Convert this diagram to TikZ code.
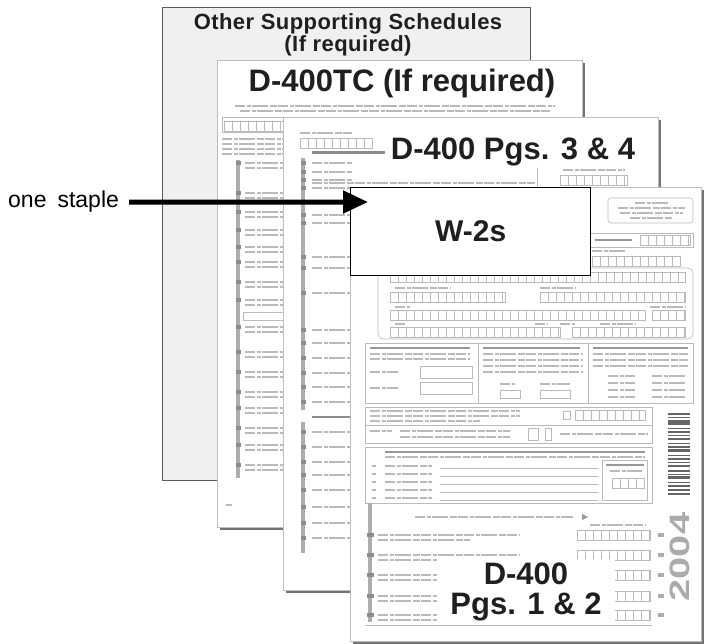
\documentclass[tikz,border=0pt]{standalone}
\usepackage{fontspec}
\setmainfont{Liberation Sans}
\usepackage{graphicx}
\usetikzlibrary{arrows.meta,shadows}

\newcommand\fgrid[3]{%
  \pgfmathsetmacro\fgA{#1+8}\pgfmathsetmacro\fgB{#1+16}%
  \draw[formline] (#1,#3) rectangle (#2,#3+10);
  \foreach \xx in {\fgA,\fgB,...,#2} {\draw[formline] (\xx,#3) -- (\xx,#3+10);}
}
\newcommand\ftext[3]{\draw[formtext] (#1,#3) -- (#2,#3);}

\begin{document}
\begin{tikzpicture}[x=1pt,y=-1pt,
  sheetone/.style={draw=black!65, line width=1.3pt, fill=black!6, inner sep=0pt, anchor=north west},
  sheet/.style={draw=black!25, line width=0.8pt, fill=white, inner sep=0pt, anchor=north west,
     drop shadow={shadow xshift=2.5pt, shadow yshift=-2.5pt, fill=black!55, opacity=1}},
  formline/.style={draw=black!27, line width=0.6pt},
  formtext/.style={black!27, line width=1.8pt, dash pattern=on 10pt off 1.5pt on 4pt off 1.5pt on 16pt off 1.5pt on 7pt off 1.5pt},
  formbar/.style={fill=black!32},
  bullet/.style={fill=black!45},
  fhead/.style={black!40, line width=2pt},
  bigtitle/.style={font=\fontsize{31}{30}\selectfont\bfseries, inner sep=0pt, text=black!88},
  w2box/.style={draw=black, line width=1.3pt, fill=white, anchor=north west, inner sep=0pt,
     font=\fontsize{30}{30}\selectfont\bfseries, text=black!88},
  staple/.style={line width=5pt, -{Triangle[length=25pt,width=22pt]}}
]
\useasboundingbox (0,0) rectangle (705,644);

% ---------- page 1 : other schedules
\node[sheetone, minimum width=368pt, minimum height=473pt] (p1) at (162,7) {};
\node[font=\fontsize{22}{18}\selectfont\bfseries\addfontfeature{LetterSpace=2}, align=center,
      anchor=north, inner sep=0pt, text=black!88] (t1) at (348,13.5) {Other Supporting Schedules\\(If required)};

% ---------- page 2 : D-400TC
\node[sheet, minimum width=365pt, minimum height=467pt] (p2) at (217,60) {};
\ftext{235}{555}{106}
\ftext{240}{550}{111}
\draw[formline] (222,117) rectangle (283,132);
\fgrid{224}{283}{121}
\foreach \yy in {139,144,149,154} {\ftext{222}{283}{\yy}}
\fill[formbar] (236,160) rectangle (240,478);
\foreach \yy in {163,193,212,230,247,262,282,300,327,352,372,392,408,428,445,465} {
  \fill[bullet] (235.5,\yy-2) rectangle (240.5,\yy+2);
  \ftext{245}{283}{\yy}
  \ftext{245}{283}{\yy+5}
}
\draw[formline] (243,312) rectangle (283,320);
\ftext{226}{232}{505}
\node[bigtitle, anchor=base] (t2) at (402,92) {D-400TC (If required)};

% ---------- page 3 : D-400 pgs 3 & 4
\node[sheet, minimum width=375pt, minimum height=473pt] (p3) at (283,117) {};
\ftext{300}{352}{133}
\fgrid{300}{372}{138}
\draw[black!45, line width=3pt] (312,153) -- (385,153);
\ftext{312}{535}{183}
\draw[formline] (537,168) -- (537,187);
\ftext{563}{625}{170}
\fgrid{560}{627}{175}
\fill[formbar] (301,158) rectangle (305,410);
\fill[formbar] (301,422) rectangle (305,553);
\draw[black!45, line width=2.5pt] (312,417) -- (350,417);
\foreach \yy in {163,172,180,188,215,223,257,268,293,330,343,358,373,387,402,432,447,462,475,490,507,523,538} {
  \fill[bullet] (300.5,\yy-2) rectangle (305.5,\yy+2);
  \ftext{312}{352}{\yy}
}
\node[bigtitle, anchor=base] (t3) at (513,160) {D-400 Pgs. 3 \& 4};

% ---------- page 4 : D-400 pgs 1 & 2
\node[sheet, minimum width=351pt, minimum height=454pt] (p4) at (350,187) {};
\draw[formline, rounded corners=3pt] (608,198) rectangle (693,223);
\ftext{635}{668}{203} \ftext{618}{685}{208} \ftext{620}{683}{213} \ftext{630}{672}{218}
\draw[formline] (590,233) rectangle (693,247);
\draw[fhead] (595,240) -- (632,240);
\fgrid{640}{690}{235}
\ftext{592}{625}{251}
\fgrid{592}{680}{256}
\draw[formline, rounded corners=5pt] (378,268) rectangle (693,339);
\fgrid{390}{685}{272}
\ftext{395}{450}{288} \ftext{540}{575}{288}
\fgrid{390}{505}{292} \fgrid{540}{685}{292}
\ftext{395}{410}{307} \ftext{650}{685}{307}
\fgrid{390}{645}{310} \fgrid{652}{685}{310}
\ftext{395}{405}{324} \ftext{535}{548}{324} \ftext{560}{575}{324} \ftext{600}{635}{324}
\fgrid{390}{560}{327} \fgrid{572}{685}{327}
% three-column block
\draw[formline] (365,343) rectangle (693,403);
\draw[formline] (478,343) -- (478,403);
\draw[formline] (588,343) -- (588,403);
\draw[fhead] (370,348) -- (470,348);
\draw[fhead] (483,348) -- (580,348);
\draw[fhead] (593,348) -- (688,348);
\foreach \yy in {354,359} {\ftext{370}{470}{\yy}}
\foreach \yy in {354,360,366,372} {\ftext{483}{583}{\yy}}
\foreach \yy in {354,360,366} {\ftext{593}{688}{\yy}}
\ftext{370}{398}{372} \draw[formline] (420,366) rectangle (472,378);
\ftext{370}{398}{388} \draw[formline] (420,382) rectangle (472,394);
\ftext{500}{515}{384} \ftext{540}{570}{384}
\draw[formline] (500,390) rectangle (520,398);
\draw[formline] (540,390) rectangle (570,398);
\foreach \yy in {376,383,390,397} {\ftext{608}{635}{\yy} \ftext{652}{686}{\yy}}
% filing boxes
\draw[formline] (365,407) rectangle (652,443);
\draw[formline] (365,425) -- (652,425);
\ftext{370}{520}{411} \ftext{370}{520}{416} \ftext{370}{480}{421}
\draw[formline] (563,411) rectangle (570,419);
\fgrid{575}{645}{410}
\ftext{370}{392}{431}
\ftext{400}{510}{431} \ftext{400}{510}{437}
\draw[formline] (528,428) rectangle (538,440);
\draw[formline] (545,428) rectangle (551,440);
\ftext{560}{648}{434}
% residency block
\draw[formline] (365,447) rectangle (652,503);
\draw[fhead] (385,452) -- (645,452);
\ftext{385}{645}{457}
\foreach \yy in {466,474,482,490,498} {
  \ftext{372}{376}{\yy}
  \ftext{385}{432}{\yy}
  \draw[formline] (440,\yy+2) -- (598,\yy+2);
}
\draw[formline] (602,460) rectangle (647,500);
\draw[fhead] (606,465) -- (644,465);
\ftext{610}{642}{471}
\fgrid{612}{644}{478}
% lines
\fill[formbar] (368,503) rectangle (372,622);
\ftext{415}{573}{517}
\fill[black!40] (582,514) -- (588,517) -- (582,520) -- cycle;
\ftext{590}{645}{525}
\foreach \yy in {535,555,575,596,615} {
  \fill[bullet] (366.5,\yy-2) rectangle (373.5,\yy+2);
  \ftext{378}{520}{\yy}
  \ftext{378}{470}{\yy+5}
  \fgrid{577}{650}{\yy-5}
  \fill[black!32] (658,\yy-2) rectangle (664,\yy+2);
}
\draw[formline] (365,625) -- (652,625);
% barcode
\foreach \yy/\w in {414/2.5,418/1,421/1.5,424/3,429/1,432/2,436/1,439/2.5,444/1,447/1.5,451/3,456/1,459/2,463/1,466/2.5,471/1.5,475/1,478/3,483/1,486/2,490/1.5,494/2.5}
  {\draw[black!60, line width=\w pt] (668,\yy) -- (690,\yy);}
\node[rotate=90, inner sep=0pt, text=black!33, font=\fontsize{28}{28}\selectfont\bfseries] (yr) at (680,557) {\scalebox{1.42}[1]{2004}};
\node[fill=white, minimum width=178pt, minimum height=66pt, inner sep=0pt, align=center,
      font=\fontsize{31}{30}\selectfont\bfseries, text=black!88] (t4) at (526,592) {D-400\\Pgs. 1 \& 2};

% ---------- W-2s
\node[w2box, minimum width=240pt, minimum height=88pt] (w2) at (350,187) {W-2s};

% ---------- staple
\node[font=\fontsize{23}{24}\selectfont, anchor=base west, inner sep=0pt] (lbl) at (8,208) {one\hskip 11pt staple};
\coordinate (stp) at (368,202);
\draw[staple] ([xshift=10pt]lbl.east) -- (stp);
\end{tikzpicture}
\end{document}
